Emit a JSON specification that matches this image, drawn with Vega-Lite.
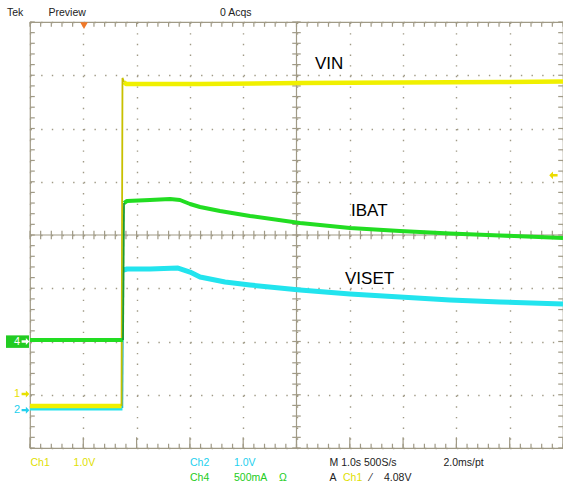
{
  "$schema": "https://vega.github.io/schema/vega-lite/v6.json",
  "width": 533,
  "height": 426,
  "autosize": {"type": "none"},
  "padding": {"left": 30, "top": 22, "right": 0, "bottom": 35},
  "background": "white",
  "config": {
    "view": {"stroke": "#a09a86", "strokeWidth": 1.2},
    "axis": {"labels": false, "ticks": false, "domain": false, "titleOpacity": 0, "grid": true, "gridColor": "#a09a86", "gridDash": [1.4, 9.26], "gridWidth": 1.4, "gridOpacity": 1},
    "text": {"font": "Liberation Sans", "align": "left", "baseline": "middle"}
  },
  "datasets": {
    "tx": [{"t":0},{"t":0.2},{"t":0.4},{"t":0.6},{"t":0.8},{"t":1},{"t":1.2},{"t":1.4},{"t":1.6},{"t":1.8},{"t":2},{"t":2.2},{"t":2.4},{"t":2.6},{"t":2.8},{"t":3},{"t":3.2},{"t":3.4},{"t":3.6},{"t":3.8},{"t":4},{"t":4.2},{"t":4.4},{"t":4.6},{"t":4.8},{"t":5},{"t":5.2},{"t":5.4},{"t":5.6},{"t":5.8},{"t":6},{"t":6.2},{"t":6.4},{"t":6.6},{"t":6.8},{"t":7},{"t":7.2},{"t":7.4},{"t":7.6},{"t":7.8},{"t":8},{"t":8.2},{"t":8.4},{"t":8.6},{"t":8.8},{"t":9},{"t":9.2},{"t":9.4},{"t":9.6},{"t":9.8},{"t":10}],
    "ty": [{"d":-4},{"d":-3.8},{"d":-3.6},{"d":-3.4},{"d":-3.2},{"d":-3},{"d":-2.8},{"d":-2.6},{"d":-2.4},{"d":-2.2},{"d":-2},{"d":-1.8},{"d":-1.6},{"d":-1.4},{"d":-1.2},{"d":-1},{"d":-0.8},{"d":-0.6},{"d":-0.4},{"d":-0.2},{"d":0},{"d":0.2},{"d":0.4},{"d":0.6},{"d":0.8},{"d":1},{"d":1.2},{"d":1.4},{"d":1.6},{"d":1.8},{"d":2},{"d":2.2},{"d":2.4},{"d":2.6},{"d":2.8},{"d":3},{"d":3.2},{"d":3.4},{"d":3.6},{"d":3.8},{"d":4}],
    "vin": [{"part":"low","t":0,"v":-3.21},{"part":"low","t":1.717,"v":-3.21},
            {"part":"edge","t":1.717,"v":-3.21},{"part":"edge","t":1.735,"v":2.95},{"part":"edge","t":1.764,"v":2.87},
            {"part":"high","t":1.764,"v":2.87},{"part":"high","t":1.8,"v":2.836},{"part":"high","t":3.19,"v":2.836},{"part":"high","t":5.066,"v":2.854},{"part":"high","t":6.94,"v":2.864},{"part":"high","t":8.82,"v":2.873},{"part":"high","t":10,"v":2.883}],
    "ibat": [{"part":"low","t":0,"v":-1.972},{"part":"low","t":1.745,"v":-1.972},
             {"part":"edge","t":1.745,"v":-1.972},{"part":"edge","t":1.764,"v":0.601},
             {"part":"high","t":1.764,"v":0.601},{"part":"high","t":1.82,"v":0.638},{"part":"high","t":2.251,"v":0.657},{"part":"high","t":2.627,"v":0.676},{"part":"high","t":2.814,"v":0.657},{"part":"high","t":3.002,"v":0.582},{"part":"high","t":3.19,"v":0.526},{"part":"high","t":3.565,"v":0.451},{"part":"high","t":4.128,"v":0.357},{"part":"high","t":5.066,"v":0.225},{"part":"high","t":6.004,"v":0.131},{"part":"high","t":6.942,"v":0.075},{"part":"high","t":7.88,"v":0.028},{"part":"high","t":8.818,"v":-0.009},{"part":"high","t":10,"v":-0.056}],
    "viset": [{"part":"low","t":0,"v":-3.249},{"part":"low","t":1.735,"v":-3.249},
              {"part":"edge","t":1.735,"v":-3.249},{"part":"edge","t":1.754,"v":-0.657},
              {"part":"high","t":1.754,"v":-0.657},{"part":"high","t":1.82,"v":-0.638},{"part":"high","t":2.251,"v":-0.638},{"part":"high","t":2.777,"v":-0.62},{"part":"high","t":3.002,"v":-0.695},{"part":"high","t":3.19,"v":-0.789},{"part":"high","t":3.659,"v":-0.883},{"part":"high","t":4.128,"v":-0.939},{"part":"high","t":5.066,"v":-1.033},{"part":"high","t":6.004,"v":-1.108},{"part":"high","t":6.942,"v":-1.164},{"part":"high","t":7.88,"v":-1.221},{"part":"high","t":8.818,"v":-1.258},{"part":"high","t":10,"v":-1.296}]
  },
  "layer": [
    {
      "data": {"values": [{}]},
      "mark": {"type": "rule", "color": "#a09a86", "strokeWidth": 1.2},
      "encoding": {
        "y": {"datum": 0, "type": "quantitative", "scale": {"domain": [-4, 4], "nice": false, "zero": false}, "axis": {"values": [-4,-3,-2,-1,0,1,2,3,4]}}
      }
    },
    {
      "data": {"values": [{}]},
      "mark": {"type": "rule", "color": "#a09a86", "strokeWidth": 1.2},
      "encoding": {
        "x": {"datum": 5, "type": "quantitative", "scale": {"domain": [0, 10], "nice": false, "zero": false}, "axis": {"values": [0,1,2,3,4,5,6,7,8,9,10]}}
      }
    },
    {"data": {"name": "tx"}, "mark": {"type": "rule", "color": "#a09a86", "strokeWidth": 1.2},
     "encoding": {"x": {"field": "t", "type": "quantitative"}, "y": {"datum": 4}, "y2": {"datum": 3.91}}},
    {"data": {"name": "tx"}, "mark": {"type": "rule", "color": "#a09a86", "strokeWidth": 1.2},
     "encoding": {"x": {"field": "t", "type": "quantitative"}, "y": {"datum": -4}, "y2": {"datum": -3.92}}},
    {"data": {"name": "tx"}, "transform": [{"filter": "datum.t == round(datum.t)"}], "mark": {"type": "rule", "color": "#a09a86", "strokeWidth": 1.2},
     "encoding": {"x": {"field": "t", "type": "quantitative"}, "y": {"datum": -4}, "y2": {"datum": -3.8}}},
    {"data": {"name": "tx"}, "mark": {"type": "rule", "color": "#a09a86", "strokeWidth": 1.2},
     "encoding": {"x": {"field": "t", "type": "quantitative"}, "y": {"datum": 0.08}, "y2": {"datum": -0.08}}},
    {"data": {"name": "ty"}, "mark": {"type": "rule", "color": "#a09a86", "strokeWidth": 1.2},
     "encoding": {"y": {"field": "d", "type": "quantitative"}, "x": {"datum": 0}, "x2": {"datum": 0.09}}},
    {"data": {"name": "ty"}, "mark": {"type": "rule", "color": "#a09a86", "strokeWidth": 1.2},
     "encoding": {"y": {"field": "d", "type": "quantitative"}, "x": {"datum": 10}, "x2": {"datum": 9.91}}},
    {"data": {"name": "ty"}, "mark": {"type": "rule", "color": "#a09a86", "strokeWidth": 1.2},
     "encoding": {"y": {"field": "d", "type": "quantitative"}, "x": {"datum": 4.92}, "x2": {"datum": 5.08}}},
    {"data": {"name": "viset"}, "transform": [{"filter": "datum.part != 'edge'"}], "mark": {"type": "line", "color": "#22e4ee", "strokeWidth": 5, "strokeJoin": "round"},
     "encoding": {"x": {"field": "t", "type": "quantitative"}, "y": {"field": "v", "type": "quantitative"}, "detail": {"field": "part"}}},
    {"data": {"name": "viset"}, "transform": [{"filter": "datum.part == 'edge'"}], "mark": {"type": "line", "color": "#2ab8c8", "strokeWidth": 1.5},
     "encoding": {"x": {"field": "t", "type": "quantitative"}, "y": {"field": "v", "type": "quantitative"}}},
    {"data": {"name": "vin"}, "transform": [{"filter": "datum.part != 'edge'"}], "mark": {"type": "line", "color": "#f0f000", "strokeWidth": 4.5, "strokeJoin": "round"},
     "encoding": {"x": {"field": "t", "type": "quantitative"}, "y": {"field": "v", "type": "quantitative"}, "detail": {"field": "part"}}},
    {"data": {"name": "vin"}, "transform": [{"filter": "datum.part == 'edge'"}], "mark": {"type": "line", "color": "#c8c000", "strokeWidth": 1.8},
     "encoding": {"x": {"field": "t", "type": "quantitative"}, "y": {"field": "v", "type": "quantitative"}}},
    {"data": {"name": "ibat"}, "transform": [{"filter": "datum.part != 'edge'"}], "mark": {"type": "line", "color": "#22dd22", "strokeWidth": 4, "strokeJoin": "round"},
     "encoding": {"x": {"field": "t", "type": "quantitative"}, "y": {"field": "v", "type": "quantitative"}, "detail": {"field": "part"}}},
    {"data": {"name": "ibat"}, "transform": [{"filter": "datum.part == 'edge'"}], "mark": {"type": "line", "color": "#1a9a30", "strokeWidth": 1.8},
     "encoding": {"x": {"field": "t", "type": "quantitative"}, "y": {"field": "v", "type": "quantitative"}}},
    {"data": {"values": [{}]}, "mark": {"type": "point", "shape": "triangle-down", "filled": true, "color": "#f07828", "size": 60, "opacity": 1},
     "encoding": {"x": {"datum": 1.013}, "y": {"datum": 3.93}}},
    {"data": {"values": [{}]}, "mark": {"type": "point", "shape": "M 1 -0.3 L -0.1 -0.3 L -0.1 -0.9 L -1 0 L -0.1 0.9 L -0.1 0.3 L 1 0.3 Z", "filled": true, "color": "#ecdc00", "size": 70, "opacity": 1, "strokeWidth": 0},
     "encoding": {"x": {"datum": 9.82}, "y": {"datum": 1.12}}},
    {"data": {"values": [{}]}, "mark": {"type": "rect", "color": "#22cc22"},
     "encoding": {"x": {"datum": -0.45}, "x2": {"datum": -0.019}, "y": {"datum": -1.885}, "y2": {"datum": -2.12}}},
    {"data": {"values": [{}]}, "mark": {"type": "text", "fontSize": 11, "color": "white", "text": "4"},
     "encoding": {"x": {"datum": -0.3}, "y": {"datum": -2.0}}},
    {"data": {"values": [{}]}, "mark": {"type": "text", "fontSize": 11, "color": "#e8e000", "text": "1"},
     "encoding": {"x": {"datum": -0.3}, "y": {"datum": -2.986}}},
    {"data": {"values": [{}]}, "mark": {"type": "text", "fontSize": 11, "color": "#22d0ee", "text": "2"},
     "encoding": {"x": {"datum": -0.3}, "y": {"datum": -3.29}}},
    {"data": {"values": [{}]}, "mark": {"type": "point", "shape": "M -1 -0.3 L 0.1 -0.3 L 0.1 -0.9 L 1 0 L 0.1 0.9 L 0.1 0.3 L -1 0.3 Z", "filled": true, "color": "white", "size": 60, "opacity": 1, "strokeWidth": 0},
     "encoding": {"x": {"datum": -0.085}, "y": {"datum": -2.0}}},
    {"data": {"values": [{}]}, "mark": {"type": "point", "shape": "M -1 -0.3 L 0.1 -0.3 L 0.1 -0.9 L 1 0 L 0.1 0.9 L 0.1 0.3 L -1 0.3 Z", "filled": true, "color": "#e8e000", "size": 60, "opacity": 1, "strokeWidth": 0},
     "encoding": {"x": {"datum": -0.085}, "y": {"datum": -2.986}}},
    {"data": {"values": [{}]}, "mark": {"type": "point", "shape": "M -1 -0.3 L 0.1 -0.3 L 0.1 -0.9 L 1 0 L 0.1 0.9 L 0.1 0.3 L -1 0.3 Z", "filled": true, "color": "#22d0ee", "size": 60, "opacity": 1, "strokeWidth": 0},
     "encoding": {"x": {"datum": -0.085}, "y": {"datum": -3.29}}},
    {"data": {"values": [{}]}, "mark": {"type": "text", "fontSize": 10.5, "color": "#222222", "text": "Tek"},
     "encoding": {"x": {"datum": -0.432}, "y": {"datum": 4.178}}},
    {"data": {"values": [{}]}, "mark": {"type": "text", "fontSize": 10.5, "color": "#222222", "text": "Preview"},
     "encoding": {"x": {"datum": 0.347}, "y": {"datum": 4.178}}},
    {"data": {"values": [{}]}, "mark": {"type": "text", "fontSize": 10.5, "color": "#222222", "text": "0 Acqs"},
     "encoding": {"x": {"datum": 3.565}, "y": {"datum": 4.178}}},
    {"data": {"values": [{}]}, "mark": {"type": "text", "fontSize": 17, "color": "black", "text": "VIN"},
     "encoding": {"x": {"datum": 5.347}, "y": {"datum": 3.202}}},
    {"data": {"values": [{}]}, "mark": {"type": "text", "fontSize": 17, "color": "black", "text": "IBAT"},
     "encoding": {"x": {"datum": 6.023}, "y": {"datum": 0.451}}},
    {"data": {"values": [{}]}, "mark": {"type": "text", "fontSize": 17, "color": "black", "text": "VISET"},
     "encoding": {"x": {"datum": 5.91}, "y": {"datum": -0.826}}},
    {"data": {"values": [{}]}, "mark": {"type": "text", "fontSize": 10.5, "color": "#e0e000", "text": "Ch1"},
     "encoding": {"x": {"datum": 0.009}, "y": {"datum": -4.291}}},
    {"data": {"values": [{}]}, "mark": {"type": "text", "fontSize": 10.5, "color": "#e0e000", "text": "1.0V"},
     "encoding": {"x": {"datum": 0.818}, "y": {"datum": -4.291}}},
    {"data": {"values": [{}]}, "mark": {"type": "text", "fontSize": 10.5, "color": "#22d0ee", "text": "Ch2"},
     "encoding": {"x": {"datum": 3.002}, "y": {"datum": -4.291}}},
    {"data": {"values": [{}]}, "mark": {"type": "text", "fontSize": 10.5, "color": "#22d0ee", "text": "1.0V"},
     "encoding": {"x": {"datum": 3.827}, "y": {"datum": -4.291}}},
    {"data": {"values": [{}]}, "mark": {"type": "text", "fontSize": 10.5, "color": "#222222", "text": "M 1.0s 500S/s"},
     "encoding": {"x": {"datum": 5.619}, "y": {"datum": -4.291}}},
    {"data": {"values": [{}]}, "mark": {"type": "text", "fontSize": 10.5, "color": "#222222", "text": "2.0ms/pt"},
     "encoding": {"x": {"datum": 7.756}, "y": {"datum": -4.291}}},
    {"data": {"values": [{}]}, "mark": {"type": "text", "fontSize": 10.5, "color": "#22cc22", "text": "Ch4"},
     "encoding": {"x": {"datum": 3.002}, "y": {"datum": -4.554}}},
    {"data": {"values": [{}]}, "mark": {"type": "text", "fontSize": 10.5, "color": "#22cc22", "text": "500mA"},
     "encoding": {"x": {"datum": 3.827}, "y": {"datum": -4.554}}},
    {"data": {"values": [{}]}, "mark": {"type": "text", "fontSize": 10.5, "color": "#22cc22", "text": "Ω"},
     "encoding": {"x": {"datum": 4.67}, "y": {"datum": -4.554}}},
    {"data": {"values": [{}]}, "mark": {"type": "text", "fontSize": 10.5, "color": "#222222", "text": "A"},
     "encoding": {"x": {"datum": 5.619}, "y": {"datum": -4.554}}},
    {"data": {"values": [{}]}, "mark": {"type": "text", "fontSize": 10.5, "color": "#e0e000", "text": "Ch1"},
     "encoding": {"x": {"datum": 5.872}, "y": {"datum": -4.554}}},
    {"data": {"values": [{}]}, "mark": {"type": "text", "fontSize": 10.5, "color": "#222222", "text": "⁄"},
     "encoding": {"x": {"datum": 6.378}, "y": {"datum": -4.554}}},
    {"data": {"values": [{}]}, "mark": {"type": "text", "fontSize": 10.5, "color": "#222222", "text": "4.08V"},
     "encoding": {"x": {"datum": 6.642}, "y": {"datum": -4.554}}}
  ]
}
